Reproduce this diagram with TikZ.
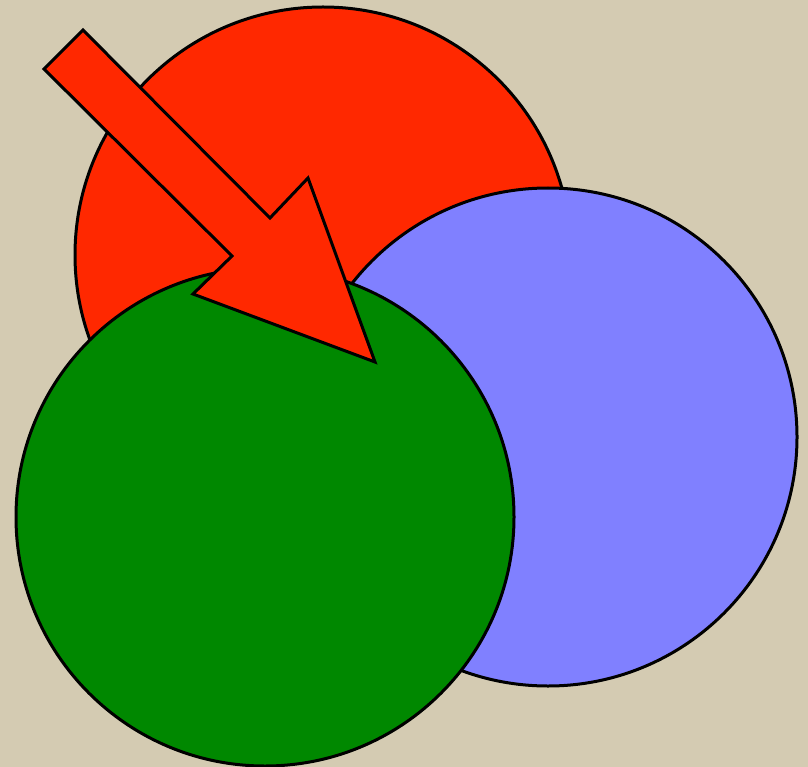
\documentclass[tikz,border=0pt]{standalone}
\usepackage{tikz}
\usetikzlibrary{positioning}
\definecolor{bgsand}{RGB}{212,203,178}
\definecolor{myred}{RGB}{255,40,0}
\definecolor{myblue}{RGB}{128,128,255}
\definecolor{mygreen}{RGB}{0,136,0}
\tikzset{disc/.style={draw=black,line width=3pt}}

\begin{document}
\begin{tikzpicture}[x=1pt,y=-1pt]
\fill[bgsand] (0,0) rectangle (808,767);
\useasboundingbox (0,0) rectangle (808,767);
\draw[disc,fill=myred] (323,255) circle (248);
\draw[disc,fill=myblue] (548,437) circle (249);
\draw[disc,fill=mygreen] (265,517) circle (249);
% block arrow
\draw[disc,fill=myred,line join=miter] (44,69) -- (83,30) -- (270,218) -- (308,178)
  -- (375,362) -- (193,294) -- (232,256) -- cycle;
\end{tikzpicture}
\end{document}
